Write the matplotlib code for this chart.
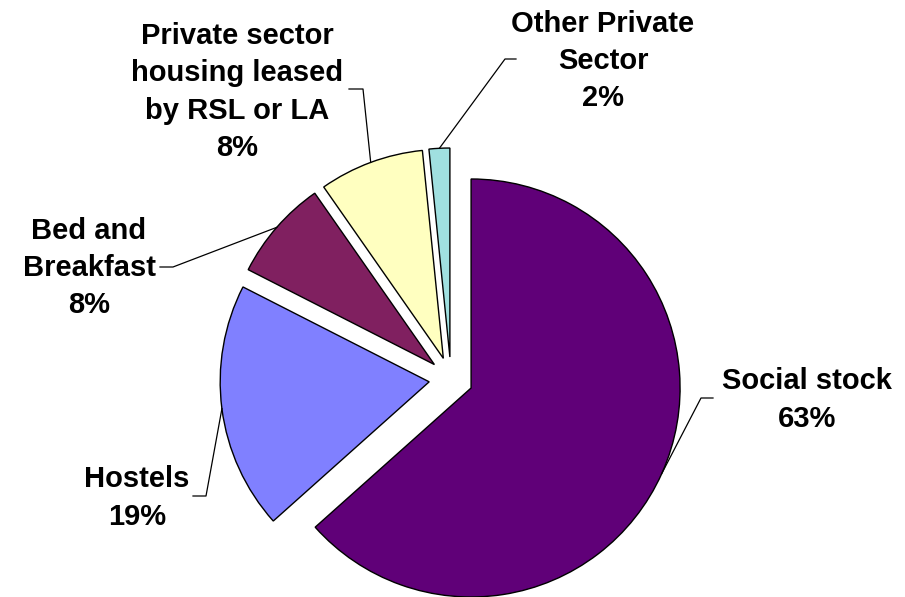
import numpy as np
import matplotlib
matplotlib.use("Agg")
import matplotlib.pyplot as plt

plt.rcParams["font.family"] = ["Liberation Sans", "DejaVu Sans"]

# --- data (share of placements, %) ---
labels = ["Social stock", "Hostels", "Bed and\nBreakfast",
          "Private sector\nhousing leased\nby RSL or LA", "Other Private\nSector"]
values = [63.4, 19.1, 7.8, 8.1, 1.6]
colors = ["#600078", "#8080FF", "#802060", "#FFFFC0", "#A0E0E0"]

# label placement in pixel coords (y up): text centre, then leader elbow
text_pos = [(807, 197), (137, 99), (89, 329), (237, 505), (603, 536)]
elbows = [((713, 199), (701, 199)), ((193, 101), (206, 101)),
          ((160, 330), (173, 330)), ((349, 508), (363, 508)),
          ((516, 538), (505, 538))]

fig = plt.figure(figsize=(9.05, 5.97), dpi=100)
ax = fig.add_axes([0, 0, 1, 1])
# explode is in data units here (pixels), ~22 px off-centre for every slice
wedges, _ = ax.pie(values, colors=colors, startangle=90, counterclock=False,
                   explode=[22] * len(values), center=(451, 218), radius=209,
                   wedgeprops=dict(edgecolor="black", linewidth=1.0))
ax.set_xlim(0, 905); ax.set_ylim(0, 597); ax.set_aspect("equal"); ax.axis("off")

for w, lab, v, (tx, ty), (p0, p1) in zip(wedges, labels, values, text_pos, elbows):
    ang = np.deg2rad((w.theta1 + w.theta2) / 2)
    cx, cy = w.center
    arc = (cx + w.r * np.cos(ang), cy + w.r * np.sin(ang))
    ax.plot([p0[0], p1[0], arc[0]], [p0[1], p1[1], arc[1]], color="black", lw=0.9)
    ax.text(tx, ty, f"{lab}\n{round(v):.0f}%", ha="center", va="center",
            fontsize=21, fontweight="bold", linespacing=1.42)

fig.savefig("out.png", dpi=100)
